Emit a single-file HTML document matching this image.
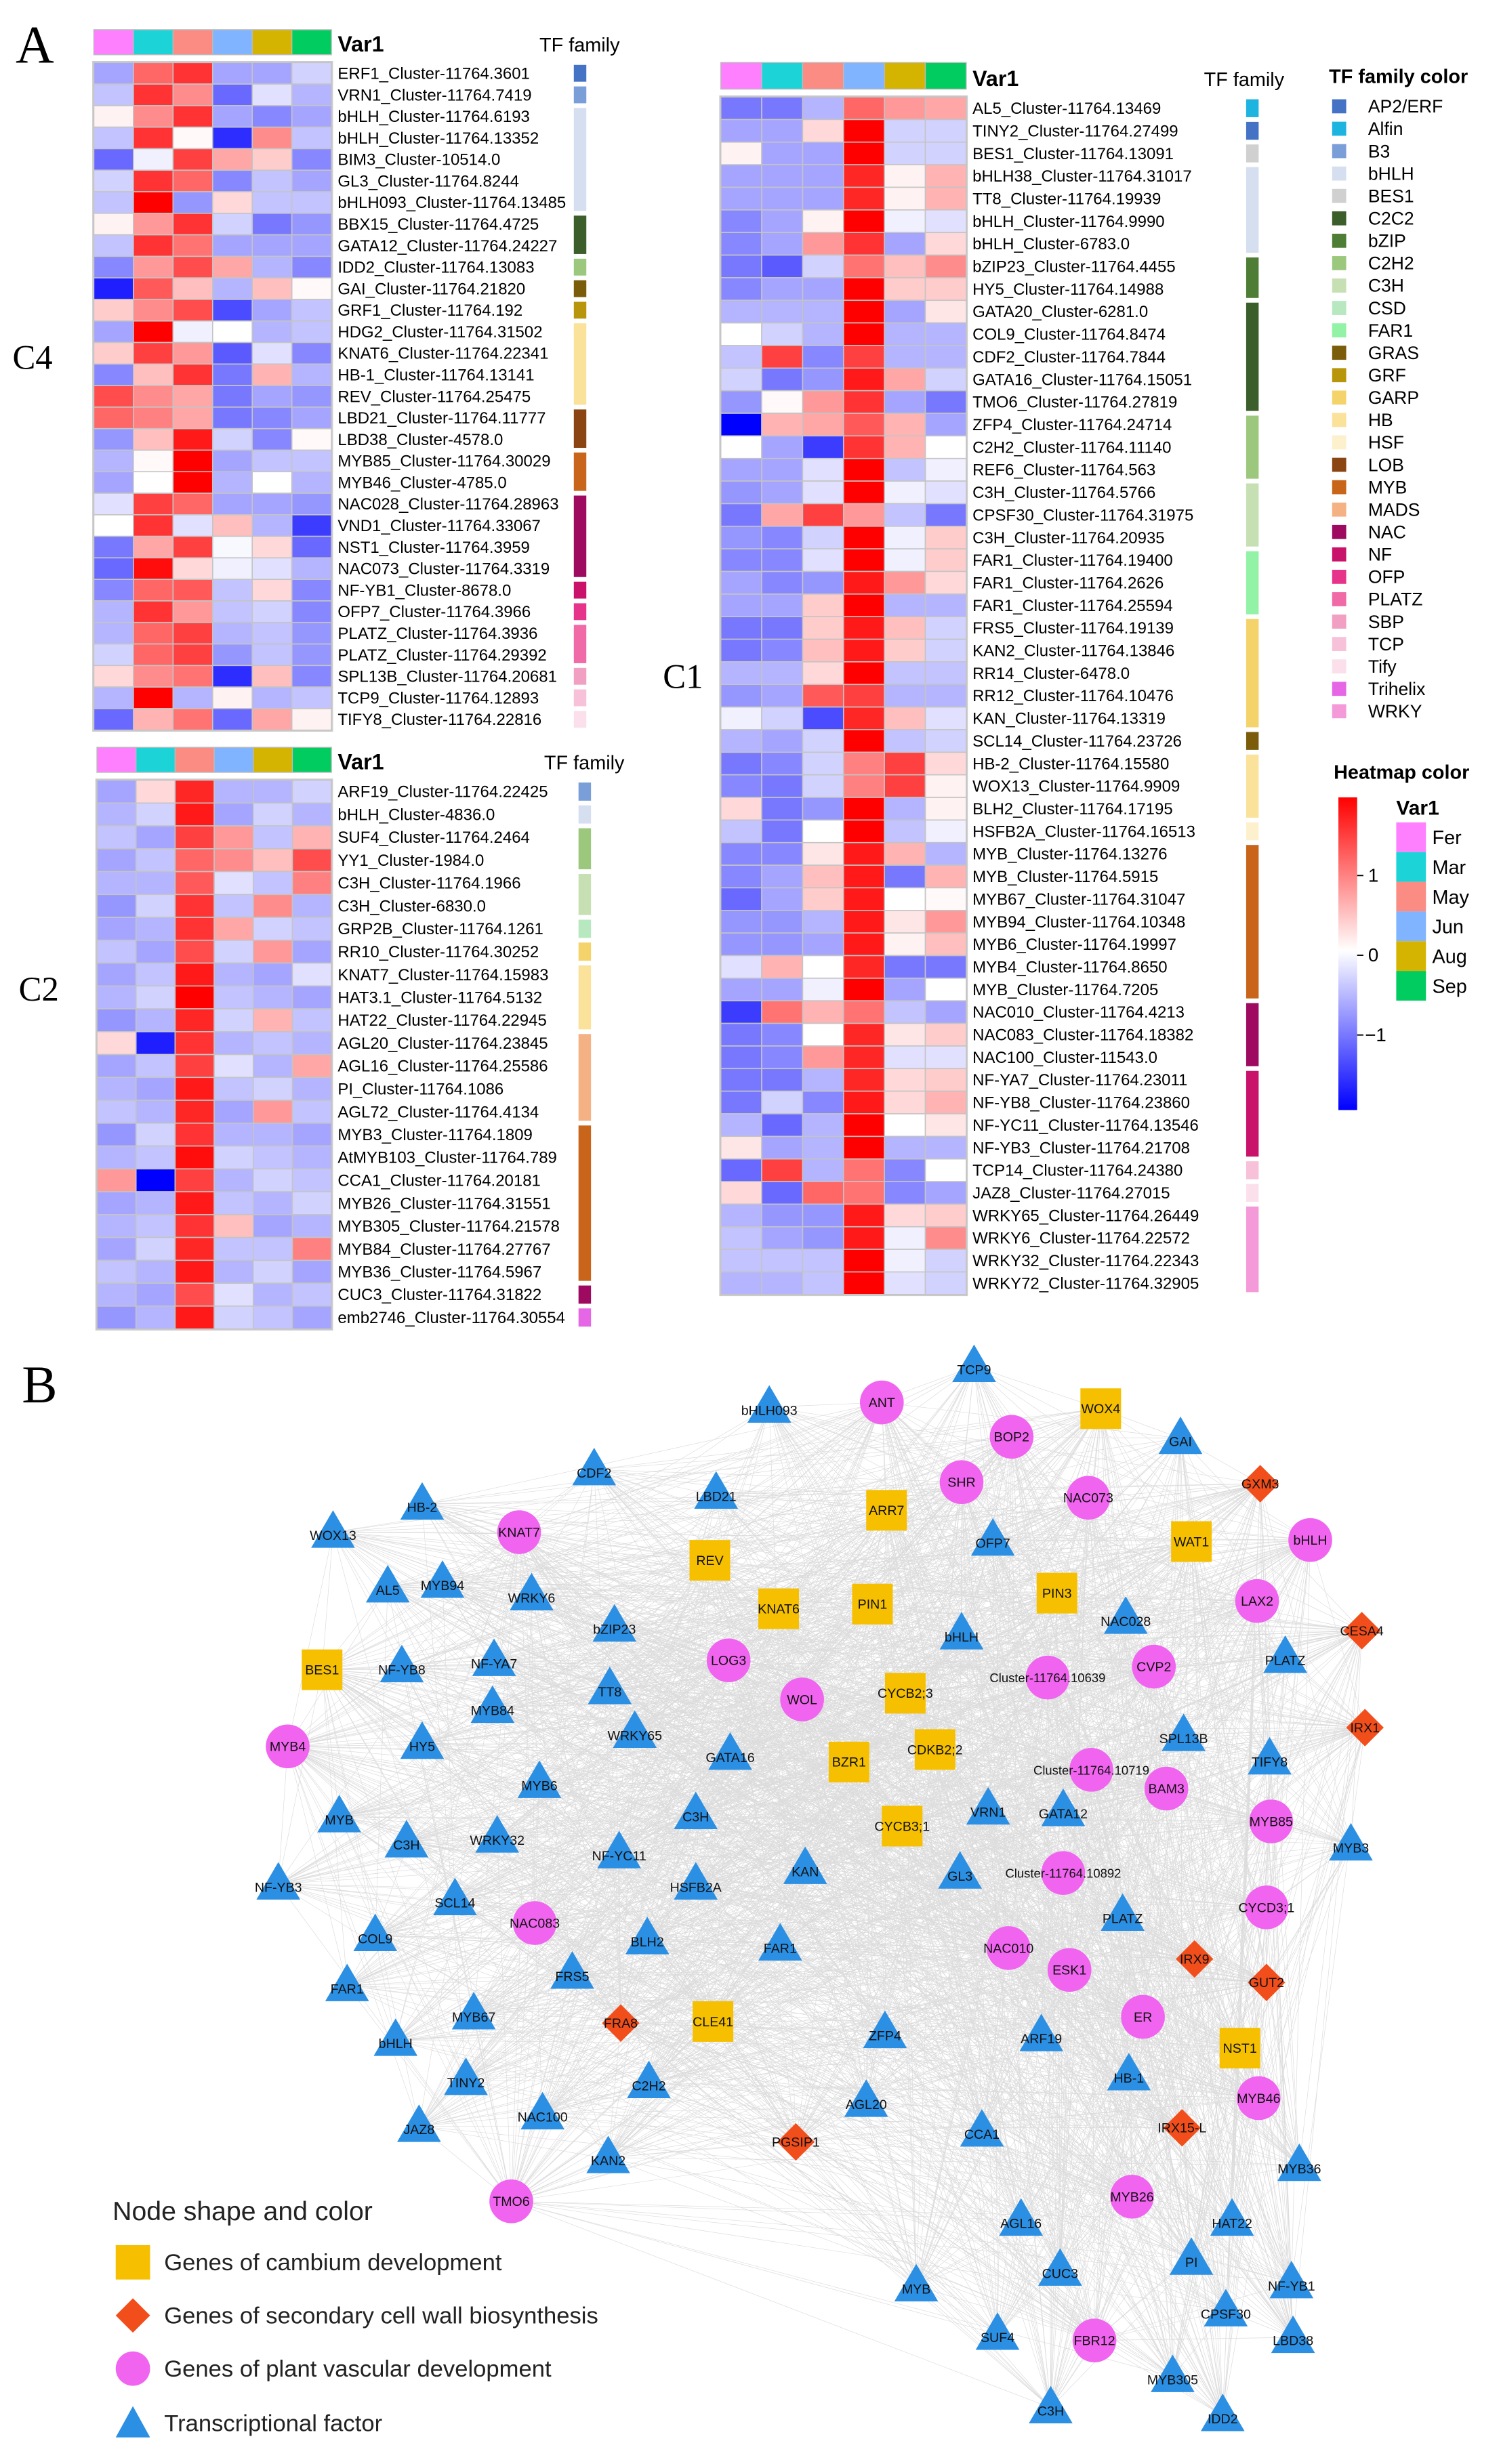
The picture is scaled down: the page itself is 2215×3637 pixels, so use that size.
<!DOCTYPE html>
<html><head><meta charset="utf-8"><style>
html,body{margin:0;padding:0;background:#fff}
svg{display:block}
text{font-family:"Liberation Sans",sans-serif}
</style></head><body>
<svg id="fig" xmlns="http://www.w3.org/2000/svg" width="2215" height="3637" viewBox="0 0 960 1576" preserveAspectRatio="none">
<text x="10" y="40" font-size="34" style="font-family:'Liberation Serif',serif">A</text>
<text x="14" y="897" font-size="34" style="font-family:'Liberation Serif',serif">B</text>
<text x="8" y="236" font-size="22" style="font-family:'Liberation Serif',serif">C4</text>
<text x="12" y="640" font-size="22" style="font-family:'Liberation Serif',serif">C2</text>
<text x="424" y="440" font-size="22" style="font-family:'Liberation Serif',serif">C1</text>
<g id="edges"></g>
<g id="layer"></g>
</svg>
<script>
const months=["Fer","Mar","May","Jun","Aug","Sep"];
const monthColors=["#ff80ff","#1cd4d8","#fa8c84","#80b4ff","#d4b400","#00cc60"];
const families=["AP2/ERF","Alfin","B3","bHLH","BES1","C2C2","bZIP","C2H2","C3H","CSD","FAR1","GRAS","GRF","GARP","HB","HSF","LOB","MYB","MADS","NAC","NF","OFP","PLATZ","SBP","TCP","Tify","Trihelix","WRKY"];
const familyColors=["#4472c4","#1eb4e0","#7a9fd8","#d5dff0","#d0d0d0","#3b5e2b","#4e7d35","#9cc87e","#c6e0b4","#b7e8c0","#92f2a6","#7a5c0a","#b8960c","#f5d36b","#fbe29a","#fdf0cc","#8b4513","#c8651b","#f4b183","#9e0a5f","#c9126a","#e6348a","#f06aa8","#f29fc4","#f7c1d9","#fbe0ec","#e667e6","#f59ad8"];

const c4Labels=["ERF1_Cluster-11764.3601","VRN1_Cluster-11764.7419","bHLH_Cluster-11764.6193","bHLH_Cluster-11764.13352","BIM3_Cluster-10514.0","GL3_Cluster-11764.8244","bHLH093_Cluster-11764.13485","BBX15_Cluster-11764.4725","GATA12_Cluster-11764.24227","IDD2_Cluster-11764.13083","GAI_Cluster-11764.21820","GRF1_Cluster-11764.192","HDG2_Cluster-11764.31502","KNAT6_Cluster-11764.22341","HB-1_Cluster-11764.13141","REV_Cluster-11764.25475","LBD21_Cluster-11764.11777","LBD38_Cluster-4578.0","MYB85_Cluster-11764.30029","MYB46_Cluster-4785.0","NAC028_Cluster-11764.28963","VND1_Cluster-11764.33067","NST1_Cluster-11764.3959","NAC073_Cluster-11764.3319","NF-YB1_Cluster-8678.0","OFP7_Cluster-11764.3966","PLATZ_Cluster-11764.3936","PLATZ_Cluster-11764.29392","SPL13B_Cluster-11764.20681","TCP9_Cluster-11764.12893","TIFY8_Cluster-11764.22816"];
const c4Fam=["AP2/ERF","B3","bHLH","bHLH","bHLH","bHLH","bHLH","C2C2","C2C2","C2H2","GRAS","GRF","HB","HB","HB","HB","LOB","LOB","MYB","MYB","NAC","NAC","NAC","NAC","NF","OFP","PLATZ","PLATZ","SBP","TCP","Tify"];
const c4Values=[[-0.6,1.2,1.6,-0.6,-0.6,-0.3],[-0.4,1.6,0.9,-1,-0.2,-0.5],[0.1,0.9,1.6,-0.6,-0.8,-0.6],[-0.4,1.6,0.05,-1.4,0.9,-0.4],[-1,-0.1,1.5,0.7,0.4,-0.8],[-0.3,1.6,1.2,-0.8,-0.4,-0.6],[-0.4,2,-0.7,0.3,-0.4,-0.4],[0.1,0.8,1.6,-0.3,-0.9,-0.7],[-0.4,1.6,1.1,-0.6,-0.6,-0.6],[-0.8,0.8,1.4,0.7,-0.5,-0.8],[-1.5,1.3,0.5,-0.5,0.5,0.05],[0.4,0.9,1.4,-1.2,-0.6,-0.4],[-0.6,2,-0.1,0,-0.5,-0.4],[0.4,1.5,0.8,-1.1,-0.2,-0.8],[-0.8,0.5,1.6,-0.9,0.6,-0.5],[1.4,0.9,0.7,-0.9,-0.6,-0.7],[1.2,1,0.7,-0.9,-0.8,-0.6],[-0.7,0.5,1.8,-0.3,-0.8,0.05],[-0.5,0.05,2,-0.6,-0.4,-0.4],[-0.6,0,2,-0.5,0,-0.5],[-0.2,1.5,1.2,-0.6,-0.6,-0.7],[0,1.6,-0.2,0.5,-0.5,-1.3],[-0.9,0.7,1.5,-0.05,0.3,-1],[-1,1.9,0.3,-0.1,-0.2,-0.5],[-0.8,1.2,1.3,-0.4,0.3,-0.8],[-0.5,1.6,0.8,-0.4,-0.3,-0.8],[-0.5,1.2,1.5,-0.5,-0.4,-0.7],[-0.3,1.2,1.5,-0.7,-0.4,-0.7],[0.3,0.9,1.1,-1.4,0.5,-0.8],[-0.5,2,-0.5,0.1,-0.5,-0.4],[-1,0.6,1.1,-1,0.7,0.1]];

const c2Labels=["ARF19_Cluster-11764.22425","bHLH_Cluster-4836.0","SUF4_Cluster-11764.2464","YY1_Cluster-1984.0","C3H_Cluster-11764.1966","C3H_Cluster-6830.0","GRP2B_Cluster-11764.1261","RR10_Cluster-11764.30252","KNAT7_Cluster-11764.15983","HAT3.1_Cluster-11764.5132","HAT22_Cluster-11764.22945","AGL20_Cluster-11764.23845","AGL16_Cluster-11764.25586","PI_Cluster-11764.1086","AGL72_Cluster-11764.4134","MYB3_Cluster-11764.1809","AtMYB103_Cluster-11764.789","CCA1_Cluster-11764.20181","MYB26_Cluster-11764.31551","MYB305_Cluster-11764.21578","MYB84_Cluster-11764.27767","MYB36_Cluster-11764.5967","CUC3_Cluster-11764.31822","emb2746_Cluster-11764.30554"];
const c2Fam=["B3","bHLH","C2H2","C2H2","C3H","C3H","CSD","GARP","HB","HB","HB","MADS","MADS","MADS","MADS","MYB","MYB","MYB","MYB","MYB","MYB","MYB","NAC","Trihelix"];
const c2Values=[[-0.6,0.3,1.7,-0.5,-0.5,-0.3],[-0.5,-0.3,1.8,-0.6,-0.3,-0.5],[-0.4,-0.6,1.5,0.8,-0.4,0.6],[-0.6,-0.4,1.2,0.9,0.5,1.4],[-0.5,-0.5,1.3,-0.2,-0.4,1],[-0.7,-0.3,1.6,-0.4,0.9,-0.5],[-0.6,-0.5,1.6,0.7,-0.3,-0.4],[-0.4,-0.6,1.4,-0.3,0.8,-0.6],[-0.6,-0.4,1.8,-0.5,-0.6,-0.2],[-0.5,-0.3,2,-0.4,-0.5,-0.6],[-0.7,-0.5,1.7,-0.3,0.6,-0.4],[0.3,-1.5,1.6,-0.5,-0.4,-0.5],[-0.6,-0.4,1.5,-0.2,-0.5,0.7],[-0.5,-0.6,1.8,-0.4,-0.3,-0.5],[-0.4,-0.5,1.7,-0.6,0.8,-0.4],[-0.7,-0.3,1.6,-0.5,-0.5,-0.6],[-0.5,-0.4,1.9,-0.3,-0.4,-0.5],[0.8,-1.7,1.5,-0.5,-0.3,-0.4],[-0.6,-0.5,1.8,-0.4,-0.5,-0.3],[-0.5,-0.4,1.6,0.5,-0.6,-0.5],[-0.6,-0.3,1.7,-0.4,-0.4,1],[-0.4,-0.5,1.8,-0.5,-0.3,-0.6],[-0.5,-0.6,1.4,-0.2,-0.5,-0.4],[-0.7,-0.5,1.8,-0.3,-0.4,-0.6]];

const c1Labels=["AL5_Cluster-11764.13469","TINY2_Cluster-11764.27499","BES1_Cluster-11764.13091","bHLH38_Cluster-11764.31017","TT8_Cluster-11764.19939","bHLH_Cluster-11764.9990","bHLH_Cluster-6783.0","bZIP23_Cluster-11764.4455","HY5_Cluster-11764.14988","GATA20_Cluster-6281.0","COL9_Cluster-11764.8474","CDF2_Cluster-11764.7844","GATA16_Cluster-11764.15051","TMO6_Cluster-11764.27819","ZFP4_Cluster-11764.24714","C2H2_Cluster-11764.11140","REF6_Cluster-11764.563","C3H_Cluster-11764.5766","CPSF30_Cluster-11764.31975","C3H_Cluster-11764.20935","FAR1_Cluster-11764.19400","FAR1_Cluster-11764.2626","FAR1_Cluster-11764.25594","FRS5_Cluster-11764.19139","KAN2_Cluster-11764.13846","RR14_Cluster-6478.0","RR12_Cluster-11764.10476","KAN_Cluster-11764.13319","SCL14_Cluster-11764.23726","HB-2_Cluster-11764.15580","WOX13_Cluster-11764.9909","BLH2_Cluster-11764.17195","HSFB2A_Cluster-11764.16513","MYB_Cluster-11764.13276","MYB_Cluster-11764.5915","MYB67_Cluster-11764.31047","MYB94_Cluster-11764.10348","MYB6_Cluster-11764.19997","MYB4_Cluster-11764.8650","MYB_Cluster-11764.7205","NAC010_Cluster-11764.4213","NAC083_Cluster-11764.18382","NAC100_Cluster-11543.0","NF-YA7_Cluster-11764.23011","NF-YB8_Cluster-11764.23860","NF-YC11_Cluster-11764.13546","NF-YB3_Cluster-11764.21708","TCP14_Cluster-11764.24380","JAZ8_Cluster-11764.27015","WRKY65_Cluster-11764.26449","WRKY6_Cluster-11764.22572","WRKY32_Cluster-11764.22343","WRKY72_Cluster-11764.32905"];
const c1Fam=["Alfin","AP2/ERF","BES1","bHLH","bHLH","bHLH","bHLH","bZIP","bZIP","C2C2","C2C2","C2C2","C2C2","C2C2","C2H2","C2H2","C2H2","C3H","C3H","C3H","FAR1","FAR1","FAR1","GARP","GARP","GARP","GARP","GARP","GRAS","HB","HB","HB","HSF","MYB","MYB","MYB","MYB","MYB","MYB","MYB","NAC","NAC","NAC","NF","NF","NF","NF","TCP","Tify","WRKY","WRKY","WRKY","WRKY"];
const c1Values=[[-0.9,-0.9,-0.5,1.2,0.8,0.7],[-0.6,-0.6,0.3,2,-0.3,-0.3],[0.1,-0.6,-0.6,2,-0.3,-0.3],[-0.6,-0.6,-0.6,1.7,0.1,0.6],[-0.6,-0.6,-0.6,1.7,0.1,0.6],[-0.8,-0.6,0.1,2,-0.1,-0.2],[-0.8,-0.6,0.8,1.6,-0.6,0.3],[-0.9,-1.1,-0.3,1.1,0.5,0.9],[-0.8,-0.6,-0.6,2,0.4,0.4],[-0.5,-0.5,-0.5,2,-0.6,0.2],[0,-0.3,-0.5,2,-0.5,-0.5],[-0.4,1.5,-0.8,1.5,-0.5,-0.5],[-0.3,-0.9,-0.7,1.8,0.7,-0.3],[-0.7,0.05,0.8,1.6,-0.6,-0.9],[-1.7,0.6,0.7,1.3,0.6,-0.6],[0,-0.6,-1.3,1.6,0.6,0],[-0.6,-0.6,-0.2,2,-0.4,-0.1],[-0.7,-0.6,-0.2,2,-0.1,-0.2],[-0.9,0.7,1.5,0.8,-0.4,-0.9],[-0.7,-0.8,-0.3,2,-0.1,0.4],[-0.8,-0.8,-0.2,2,-0.1,0.4],[-0.6,-0.8,-0.7,1.8,0.8,0.3],[-0.6,-0.6,0.4,2,-0.5,-0.5],[-0.9,-0.9,0.4,1.8,0.5,-0.3],[-0.9,-0.8,0.5,1.8,0.4,-0.3],[-0.5,-0.5,0.3,2,-0.4,-0.4],[-0.7,-0.6,1.3,1.5,-0.5,-0.5],[-0.1,-0.3,-1.2,1.7,0.5,-0.2],[-0.5,-0.6,-0.3,2,-0.4,-0.3],[-0.9,-0.8,-0.3,1,1.5,0.3],[-0.8,-0.9,-0.3,1,1.5,0.1],[0.3,-0.9,-0.7,2,-0.5,0.1],[-0.4,-0.9,0,2,-0.4,-0.1],[-0.8,-0.8,0.2,1.8,0.6,-0.5],[-0.8,-0.6,0.5,1.8,-0.9,0.6],[-1,-0.6,0.4,1.8,0,0.05],[-0.7,-0.7,-0.5,1.8,0.2,0.8],[-0.7,-0.7,-0.6,1.8,0.1,0.5],[-0.2,0.6,0,1.7,-0.9,-0.9],[-0.6,-0.6,-0.1,2,-0.6,0],[-1.3,1.1,0.6,1.1,-0.4,-0.6],[-0.9,-0.8,0,1.7,0.2,0.4],[-0.9,-0.8,0.8,1.7,-0.2,-0.2],[-0.9,-0.9,-0.5,1.7,0.3,0.4],[-0.9,-0.3,-0.8,1.8,0.3,0.6],[-0.5,-1,-0.5,2,0,0.2],[0.2,-0.6,-0.5,2,-0.5,-0.5],[-1,1.5,-0.5,1.1,-0.8,0],[0.3,-1,1.2,1.1,-0.8,-0.6],[-0.5,-0.7,-0.7,1.8,0.3,0.4],[-0.4,-0.6,-0.7,1.8,-0.1,0.9],[-0.4,-0.4,-0.4,2,-0.1,-0.3],[-0.5,-0.5,-0.4,2,-0.2,-0.3]];
const scaleTicks=[1,0,-1];

const nodeNames=["TCP9","bHLH093","GAI","CDF2","LBD21","HB-2","WOX13","AL5","MYB94","WRKY6","bZIP23","NF-YA7","NF-YB8","OFP7","NAC028","bHLH","PLATZ","MYB84","TT8","WRKY65","HY5","GATA16","SPL13B","TIFY8","MYB6","C3H","VRN1","GATA12","MYB","C3H","WRKY32","NF-YC11","HSFB2A","KAN","GL3","MYB3","NF-YB3","SCL14","BLH2","FAR1","PLATZ","COL9","FRS5","FAR1","MYB67","ZFP4","ARF19","HB-1","bHLH","TINY2","C2H2","AGL20","CCA1","NAC100","JAZ8","KAN2","MYB36","AGL16","HAT22","CUC3","PI","NF-YB1","MYB","SUF4","CPSF30","LBD38","MYB305","C3H","IDD2",
"ANT","BOP2","SHR","NAC073","KNAT7","bHLH","LAX2","LOG3","CVP2","Cluster-11764.10639","WOL","MYB4","Cluster-11764.10719","BAM3","MYB85","Cluster-11764.10892","CYCD3;1","NAC083","NAC010","ESK1","ER","MYB46","MYB26","TMO6","FBR12",
"WOX4","ARR7","WAT1","REV","PIN1","PIN3","KNAT6","BES1","CYCB2;3","CDKB2;2","BZR1","CYCB3;1","CLE41","NST1",
"GXM3","CESA4","IRX1","IRX9","GUT2","FRA8","PGSIP1","IRX15-L"];
const nodeTypes="ttttttttttttttttttttttttttttttttttttttttttttttttttttttttttttttttttttt"+"ccccccccccccccccccccccccc"+"ssssssssssssss"+"dddddddd";
const nodeX=[623,492,755,380,458,270,213,248,283,340,393,316,257,635,720,615,822,315,390,406,270,467,757,812,345,445,632,680,217,260,318,396,445,515,614,864,178,291,414,499,718,240,366,222,303,566,666,722,253,298,415,554,628,347,268,389,831,653,788,678,762,826,586,638,784,827,750,672,782,
564,647,615,696,332,838,804,466,738,670,513,184,698,746,813,680,810,342,645,684,731,805,724,327,700,
704,567,762,454,558,676,498,206,579,598,543,577,456,793,
806,871,873,764,810,397,509,756];
const nodeY=[874,900,920,940,955,962,980,1015,1012,1020,1040,1062,1066,985,1035,1045,1060,1092,1080,1108,1115,1122,1110,1125,1140,1160,1157,1158,1162,1178,1175,1185,1205,1195,1198,1180,1205,1215,1240,1244,1225,1238,1262,1270,1288,1300,1302,1327,1305,1330,1332,1344,1363,1352,1360,1380,1385,1420,1420,1452,1445,1460,1462,1493,1478,1495,1520,1540,1545,
897,919,948,958,980,985,1024,1062,1066,1073,1087,1117,1132,1144,1165,1198,1220,1230,1246,1260,1290,1342,1405,1408,1497,
901,966,986,998,1026,1019,1029,1068,1083,1119,1127,1168,1293,1310,
949,1043,1105,1253,1268,1294,1370,1361];

const NS="http://www.w3.org/2000/svg";
const layer=document.getElementById('layer');
function mk(tag,attrs,parent){const e=document.createElementNS(NS,tag);for(const k in attrs)e.setAttribute(k,attrs[k]);(parent||layer).appendChild(e);return e;}
function txt(x,y,s,size,parent,extra){const e=mk('text',Object.assign({x:x,y:y,'font-size':size},extra||{}),parent);e.textContent=s;return e;}
function heatColor(v){
  if(v>=0){const t=Math.min(v/2,1);return `rgb(255,${Math.round(255*(1-t))},${Math.round(255*(1-t))})`;}
  const t=Math.min(-v/1.7,1);return `rgb(${Math.round(255*(1-t))},${Math.round(255*(1-t))},255)`;
}
function drawHeat(cfg,labels,fam,values){
  const g=mk('g',{});
  
  
  const cw=cfg.w/6, n=labels.length, rh=(cfg.y1-cfg.y0)/n;
  months.forEach((m,j)=>{
    const r=mk('rect',{x:cfg.x+j*cw,y:cfg.ay,width:cw,height:cfg.ah,fill:monthColors[j],stroke:'#bbb','stroke-width':0.6},g);
    
    
  });
  const v=txt(cfg.x+cfg.w+4,cfg.ay+cfg.ah-2,'Var1',14,g,{'font-weight':'bold'});
  
  
  const tf=txt(cfg.tfx,cfg.ay+cfg.ah-2,'TF family',12.5,g);
  
  
  mk('rect',{x:cfg.x-1,y:cfg.y0-1,width:cfg.w+2,height:cfg.y1-cfg.y0+2,fill:'#ccc'},g);
  values.slice(0,n).forEach((row,i)=>{
    row.forEach((val,j)=>{
      const c=mk('rect',{x:cfg.x+j*cw,y:cfg.y0+i*rh,width:cw,height:rh,fill:heatColor(val),stroke:'#c4c4c4','stroke-width':0.7},g);
      
      
    });
    const l=txt(cfg.x+cfg.w+4,cfg.y0+i*rh+rh/2+3.6,labels[i],10.4,g);
    
    
  });
  let s=0;
  for(let i=1;i<=n;i++){
    if(i===n||fam[i]!==fam[s]){
      const b=mk('rect',{x:cfg.barx,y:cfg.y0+s*rh+1.5,width:8,height:(i-s)*rh-3,fill:familyColors[families.indexOf(fam[s])]},g);
      
      
      s=i;
    }
  }
}
drawHeat({name:'heatmap-c4',x:60,w:152,ay:19,ah:16,y0:40,y1:467,tfx:345,barx:367},c4Labels,c4Fam,c4Values);
drawHeat({name:'heatmap-c2',x:62,w:150,ay:478,ah:16,y0:499,y1:850,tfx:348,barx:370},c2Labels,c2Fam,c2Values);
drawHeat({name:'heatmap-c1',x:461,w:157,ay:40,ah:17,y0:62,y1:828,tfx:770,barx:797},c1Labels,c1Fam,c1Values);

const lg=mk('g',{});


txt(850,53,'TF family color',12.5,lg,{'font-weight':'bold'});
families.forEach((f,i)=>{
  const y=68+i*14.33;
  const r=mk('rect',{x:852,y:y-4.5,width:9,height:9,fill:familyColors[i]},lg);
  
  
  txt(875,y+4,f,11.5,lg);
});
const hg=mk('g',{});


txt(853,498,'Heatmap color',12.5,hg,{'font-weight':'bold'});
const defs=mk('defs',{},hg);
const grad=mk('linearGradient',{id:'hg',x1:0,y1:0,x2:0,y2:1},defs);
[[0,'#ff0000'],[0.49,'#ffffff'],[1,'#0000ff']].forEach(s=>mk('stop',{offset:s[0],'stop-color':s[1]},grad));
mk('rect',{x:856,y:510,width:12,height:200,fill:'url(#hg)'},hg);
const zeroY=611, unit=51;
scaleTicks.forEach(t=>{
  const y=zeroY-t*unit;
  mk('line',{x1:868,x2:872,y1:y,y2:y,stroke:'#000','stroke-width':0.8},hg);
  txt(t<0?873:875,y+4,t<0?'\u22121':String(t),12,hg);
});
txt(893,521,'Var1',13,hg,{'font-weight':'bold'});
months.forEach((m,j)=>{
  const y=526+j*19;
  const r=mk('rect',{x:893,y:y,width:19,height:19,fill:monthColors[j]},hg);
  
  
  txt(916,y+14,m,12.5,hg);
});

const eg=document.getElementById('edges');
const N=nodeNames.length;
let d='';
for(let i=0;i<N;i++){
  for(let j=i+1;j<N;j++){
    const hi=nodeTypes[i]!=='t', hj=nodeTypes[j]!=='t';
    let keep=false;
    if(hi&&hj) keep=((i*3+j)%4===0);
    else if(hi||hj) keep=((i+j*2)%3!==0);
    else keep=((i*5+j*7)%23===0);
    if(keep) d+=`M${nodeX[i]} ${nodeY[i]}L${nodeX[j]} ${nodeY[j]}`;
  }
}
const ep=mk('path',{d:d,stroke:'#a8a8a8','stroke-width':0.3,'stroke-opacity':0.4,fill:'none'},eg);



const ng=mk('g',{});


function shape(type,x,y,parent){
  if(type==='t') return mk('polygon',{points:`${x},${y-14} ${x-14},${y+10} ${x+14},${y+10}`,fill:'#2b8fe3'},parent);
  if(type==='c') return mk('circle',{cx:x,cy:y,r:14,fill:'#f064ef'},parent);
  if(type==='s') return mk('rect',{x:x-13,y:y-13,width:26,height:26,fill:'#f6c000'},parent);
  return mk('polygon',{points:`${x},${y-12} ${x+12},${y} ${x},${y+12} ${x-12},${y}`,fill:'#f24e1c'},parent);
}
for(let i=0;i<N;i++){
  const g=mk('g',{},ng);
  
  
  shape(nodeTypes[i],nodeX[i],nodeY[i],g);
  txt(nodeX[i],nodeY[i]+(nodeTypes[i]==='t'?5:3),nodeNames[i],nodeNames[i].length>10?8:8.5,g,{'text-anchor':'middle',fill:'#111'});
}

const nl=mk('g',{});


txt(72,1420,'Node shape and color',17,nl,{fill:'#222'});
const items=[['s','Genes of cambium development',1447],['d','Genes of secondary cell wall biosynthesis',1481],['c','Genes of plant vascular development',1515],['t','Transcriptional factor',1550]];
items.forEach(it=>{
  const g=mk('g',{},nl);
  
  
  if(it[0]==='s') mk('rect',{x:74,y:it[2]-11,width:22,height:22,fill:'#f6c000'},g);
  else if(it[0]==='d') mk('polygon',{points:`85,${it[2]-11} 96,${it[2]} 85,${it[2]+11} 74,${it[2]}`,fill:'#f24e1c'},g);
  else if(it[0]==='c') mk('circle',{cx:85,cy:it[2],r:11,fill:'#f064ef'},g);
  else mk('polygon',{points:`85,${it[2]-11} 74,${it[2]+9} 96,${it[2]+9}`,fill:'#2b8fe3'},g);
  txt(105,it[2]+5,it[1],15,g,{fill:'#222'});
});
</script>
</body></html>
